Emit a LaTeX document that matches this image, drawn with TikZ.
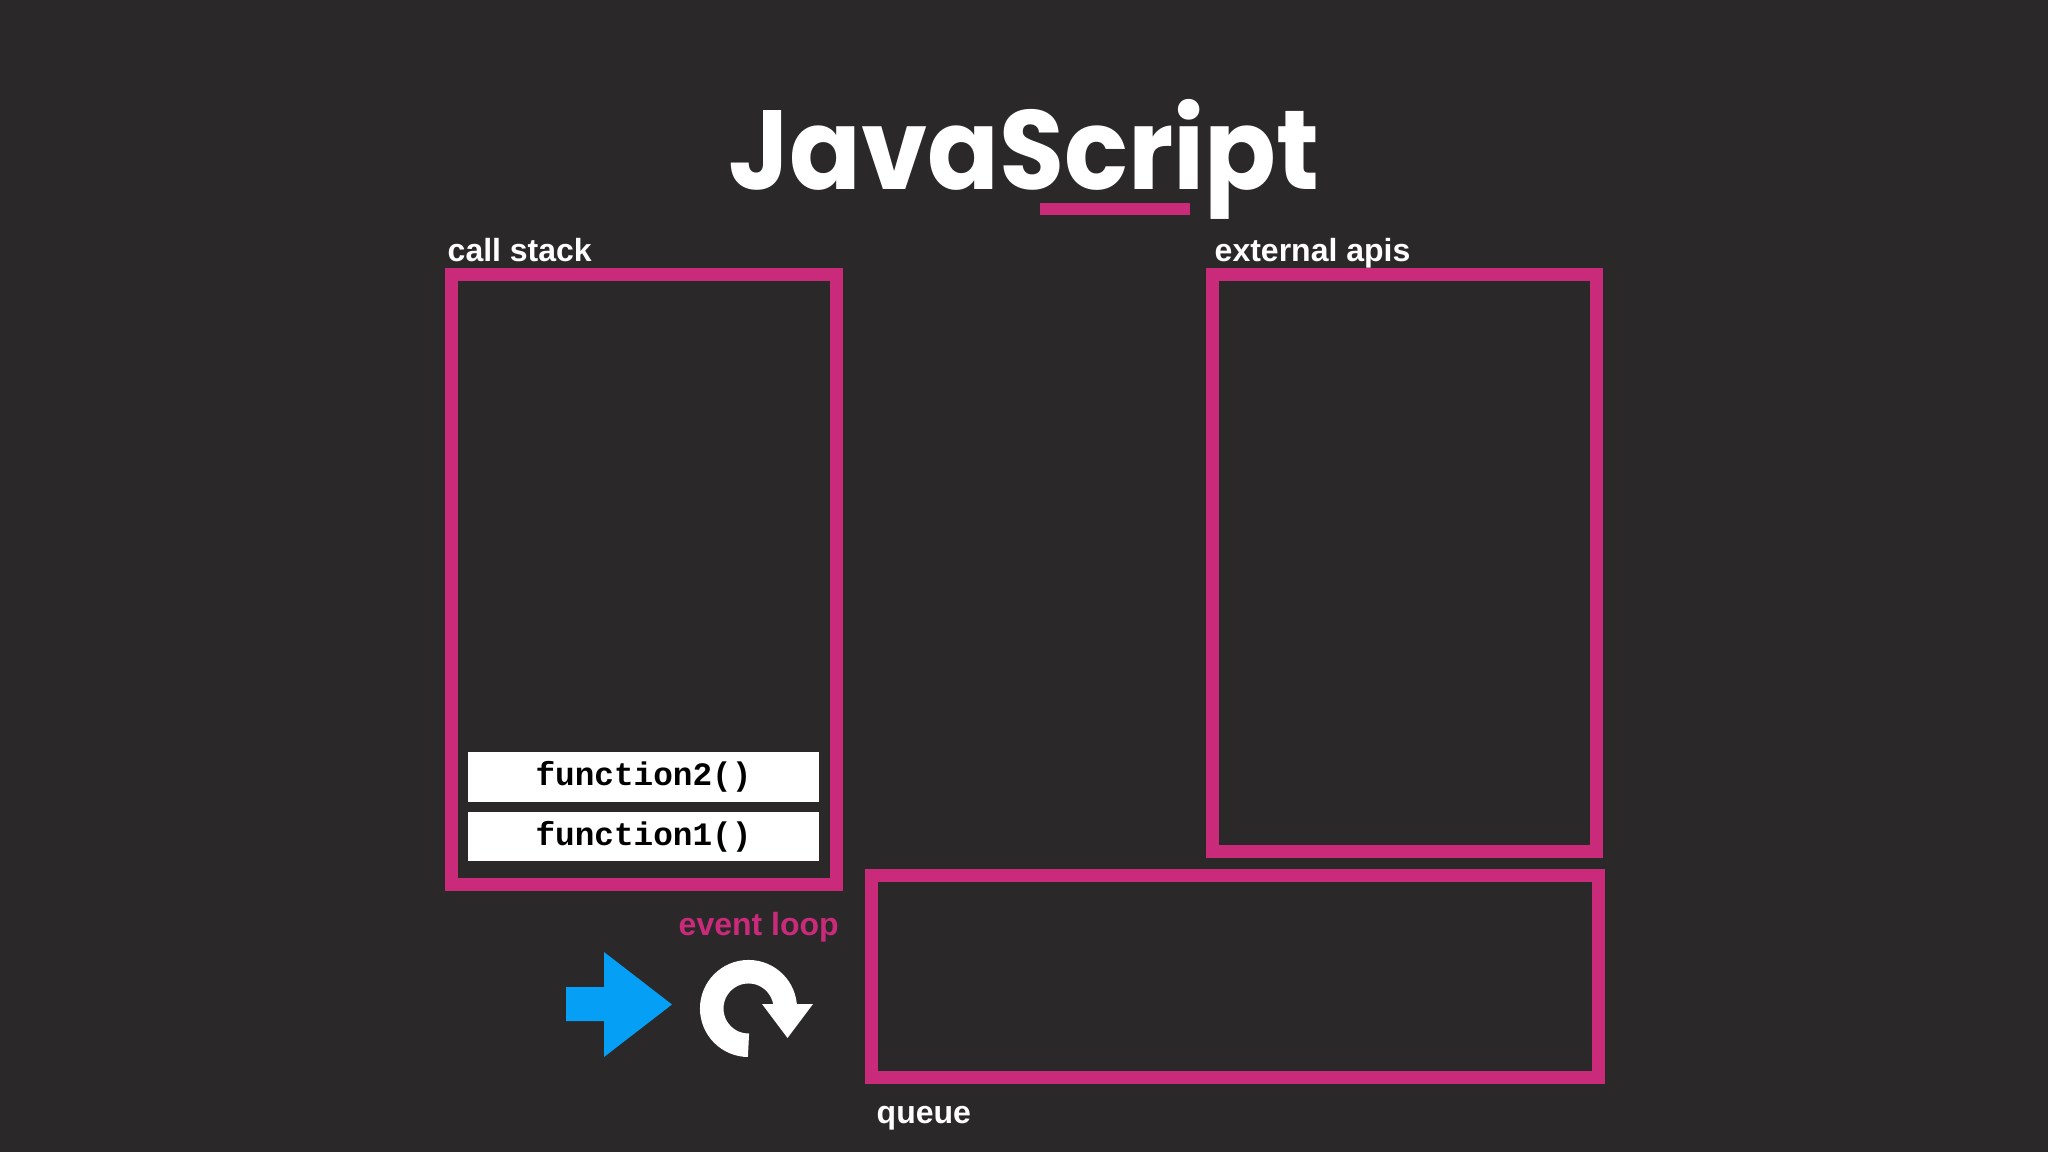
\documentclass[tikz,border=0pt]{standalone}
\usepackage{fontspec}
\setmainfont{Liberation Sans}
\newfontfamily\titlefont{Poppins}
\newfontfamily\codefont{Liberation Mono}
\definecolor{bgcol}{RGB}{43,40,41}
\definecolor{jspink}{RGB}{201,42,122}
\definecolor{jsblue}{RGB}{6,159,246}

\begin{document}
\begin{tikzpicture}[x=0.01cm,y=-0.01cm,
  panel/.style={draw=jspink,line width=0.13cm,inner sep=0pt,outer sep=0pt},
  frame/.style={fill=white,inner sep=0pt,minimum width=3.51cm,minimum height=0.49cm,font=\codefont\bfseries\fontsize{9.3}{11}\selectfont},
  tag/.style={text=white,font=\bfseries\fontsize{9.1}{11}\selectfont,inner sep=0pt,anchor=base west}]
\useasboundingbox[fill=bgcol] (0,0) rectangle (2048,1152);
\node[text=white,font=\titlefont\bfseries\fontsize{32}{36}\selectfont,anchor=base,inner sep=0pt] (title) at (1024,190) {\scalebox{0.94}[1]{JavaScript}};
\node[fill=jspink,inner sep=0pt,minimum width=1.5cm,minimum height=0.12cm] (uline) at (1115,209) {};
\node[panel,minimum width=3.85cm,minimum height=6.10cm] (stack) at (644,579.5) {};
\node[panel,minimum width=3.84cm,minimum height=5.77cm] (apis) at (1404.5,563) {};
\node[panel,minimum width=7.27cm,minimum height=2.02cm] (queue) at (1235,976.5) {};
\node[tag] (stacklbl) at (447,262) {call stack};
\node[tag] (apislbl) at (1214,262) {external apis};
\node[tag] (queuelbl) at (876,1123) {queue};
\node[tag,text=jspink] (looplbl) at (678,935) {event loop};
\node[frame] (fn2) at (643.5,777) {function2()};
\node[frame] (fn1) at (643.5,836.5) {function1()};
\fill[jsblue] (566,987) -- (604,987) -- (604,952) -- (672,1004.5) -- (604,1057) -- (604,1021) -- (566,1021) -- cycle;
\draw[white,line width=0.235cm] (748.5,1045.25) arc[start angle=270,end angle=0,radius=0.3675cm];
\fill[white] (762,1004) -- (813,1004) -- (787.5,1038) -- cycle;
\end{tikzpicture}
\end{document}
